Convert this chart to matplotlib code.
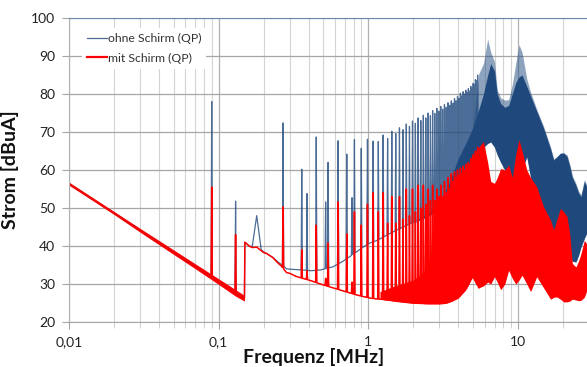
import numpy as np
import matplotlib
matplotlib.use("Agg")
import matplotlib.pyplot as plt
from matplotlib.lines import Line2D
from matplotlib.ticker import FixedLocator, NullFormatter, LogLocator

plt.rcParams['font.family'] = ['Lato', 'DejaVu Sans']

# noise floor below 150 kHz (both measurements on top of each other)
low_f = [0.01, 0.015, 0.02, 0.03, 0.05, 0.07, 0.1, 0.13, 0.149]
low_lo = [56.0, 51.5, 48.3, 43.6, 37.8, 34.0, 29.9, 26.8, 25.5]
low_hi = [56.8, 52.3, 49.1, 44.6, 39.0, 35.3, 31.4, 28.5, 27.0]

# single lines below 150 kHz
low_spike_f = [0.09, 0.13]
low_spike_blue = [78.0, 51.8]
low_spike_red = [55.5, 43.0]

# floor between the harmonics, 0.15 ... 5.5 MHz
base_f = [0.15, 0.16, 0.17, 0.19, 0.20, 0.21, 0.23, 0.25, 0.262, 0.285, 0.30, 0.33,
          0.42, 0.48, 0.58, 0.68, 0.76, 0.86, 0.95, 1.03, 1.12, 1.22, 1.4, 1.58,
          1.76, 1.94, 2.2, 2.48, 2.75, 3.1, 3.38, 3.65, 4.0, 4.5, 5.0, 5.5]
base_blue = [41.0, 40.0, 39.8, 39.2, 38.5, 38.0, 37.0, 35.8, 35.2, 34.0, 33.9, 33.8,
             33.5, 33.7, 34.5, 36.0, 37.3, 38.8, 40.0, 40.8, 41.3, 42.0, 43.3, 44.3,
             45.2, 46.0, 47.0, 47.8, 48.7, 50.0, 51.5, 53.0, 55.0, 58.0, 61.0, 64.0]
base_red = [41.0, 40.0, 39.5, 39.0, 38.3, 38.0, 37.0, 35.5, 34.8, 33.0, 32.8, 32.0,
            30.8, 30.0, 29.0, 28.2, 27.6, 27.0, 26.6, 26.3, 26.1, 26.0, 25.7, 25.4,
            25.2, 25.0, 24.9, 24.8, 24.8, 24.8, 25.0, 25.5, 26.3, 28.5, 31.9, 29.0]

# harmonic peaks
harm_f = [0.18, 0.27, 0.36, 0.39, 0.45, 0.52, 0.54, 0.63, 0.72, 0.78, 0.81, 0.90, 0.99,
          1.08, 1.17, 1.26, 1.35, 1.44, 1.53, 1.62, 1.71, 1.80, 1.89, 1.98, 2.07, 2.16,
          2.25, 2.34, 2.43, 2.52, 2.61, 2.70, 2.79, 2.88, 2.97, 3.06, 3.15, 3.24, 3.33,
          3.42, 3.51, 3.60, 3.69, 3.78, 3.87, 3.96, 4.05, 4.14, 4.23, 4.32, 4.41, 4.50,
          4.59, 4.68, 4.77, 4.86, 4.95, 5.04, 5.13, 5.22, 5.31, 5.40]
harm_blue = [48.0, 72.4, 60.2, 53.8, 68.7, 51.6, 62.0, 67.7, 64.2, 52.7, 68.0, 65.7, 68.1,
             67.6, 67.5, 69.2, 68.3, 70.2, 69.6, 71.1, 70.6, 72.1, 71.5, 72.9, 72.3, 73.7,
             73.0, 74.4, 73.7, 75.0, 74.3, 75.6, 74.9, 76.2, 75.5, 76.7, 76.0, 77.2, 76.5,
             77.7, 77.0, 78.2, 77.6, 78.8, 78.2, 79.4, 78.8, 80.2, 79.5, 80.6, 80.0, 81.0,
             80.4, 81.4, 80.8, 82.0, 81.5, 82.8, 82.5, 83.8, 83.5, 85.0]
harm_red = [39.7, 50.3, 39.0, 33.5, 45.5, 31.5, 40.8, 51.6, 43.2, 30.5, 49.0, 45.5, 51.0,
            54.0, 49.0, 54.0, 46.0, 53.0, 46.0, 53.0, 47.0, 55.0, 48.0, 55.0, 49.0, 56.0,
            50.0, 56.0, 51.0, 55.0, 52.0, 56.0, 52.0, 55.0, 53.0, 56.0, 53.0, 57.0, 54.0,
            58.0, 55.0, 59.0, 57.0, 59.5, 58.0, 60.0, 58.5, 60.5, 59.0, 61.0, 60.0, 61.5,
            60.5, 62.0, 61.5, 63.0, 62.5, 64.0, 63.5, 65.0, 64.5, 66.0]

# dense part of the spectrum (envelopes)
band_f = [1.2, 1.5, 2.0, 2.5, 3.0, 3.6, 4.0, 4.5, 5.0, 5.5, 5.9, 6.3, 6.6, 7.0, 7.3,
          7.7, 8.2, 8.7, 9.2, 9.7, 10.2, 10.7, 11.5, 12.2, 13.4, 14.9, 16.6, 17.4,
          18.3, 19.3, 20.3, 21.4, 22.3, 23.2, 24.5, 25.5, 26.5, 27.9, 29.0, 30.0]
blue_lo = [42.0, 44.0, 46.0, 47.8, 49.5, 53.0, 55.0, 58.0, 61.0, 64.0, 66.0, 67.0, 67.4,
           66.0, 64.0, 62.0, 60.0, 59.0, 58.0, 58.0, 58.0, 60.0, 63.5, 58.0, 54.0, 49.0,
           46.0, 44.0, 44.0, 44.0, 42.0, 40.0, 37.5, 36.0, 35.8, 37.5, 39.8, 42.0, 43.5, 44.0]
blue_core = [42.0, 44.0, 46.0, 48.5, 51.0, 58.0, 63.0, 67.0, 71.0, 76.0, 80.0, 85.0, 88.0,
             86.0, 80.0, 77.5, 76.5, 77.0, 80.0, 83.0, 84.5, 85.0, 82.0, 79.5, 75.5, 71.0,
             65.5, 62.6, 63.5, 64.4, 64.5, 63.5, 61.0, 58.0, 56.0, 54.0, 53.0, 57.0, 55.5, 53.5]
blue_hi = [42.0, 44.0, 46.0, 48.5, 51.0, 58.0, 63.0, 67.0, 71.0, 85.4, 88.0, 94.5, 91.0,
           88.5, 81.0, 79.0, 78.4, 78.5, 82.5, 88.0, 93.0, 91.0, 84.0, 80.5, 76.0, 71.5,
           66.0, 63.0, 63.5, 64.4, 64.5, 64.0, 61.5, 58.5, 56.5, 54.5, 53.5, 57.5, 56.0, 54.0]
red_lo = [26.0, 25.5, 25.0, 24.8, 24.8, 25.5, 26.3, 28.5, 31.9, 29.0, 29.5, 30.5, 30.0,
          31.9, 30.5, 28.5, 30.0, 33.6, 31.5, 30.0, 31.0, 32.3, 30.0, 28.0, 31.9, 29.0,
          26.0, 26.5, 26.6, 26.0, 25.3, 25.3, 25.5, 26.0, 25.8, 25.6, 25.7, 26.5, 28.3, 28.0]
red_hi = [28.0, 29.5, 31.0, 34.0, 40.0, 52.0, 56.0, 58.0, 60.0, 66.0, 67.5, 62.0, 57.0,
          56.5, 58.0, 60.4, 60.0, 61.3, 58.0, 64.0, 68.0, 65.0, 60.0, 58.0, 55.6, 50.3,
          46.8, 44.2, 47.0, 49.9, 49.0, 47.7, 43.0, 35.4, 34.5, 36.0, 38.0, 41.5, 40.5, 40.0]

BLUE = '#1F497D'
RED = '#FF0000'


def spiky(bx, by, sx, sy):
    # floor line with narrow peaks put on it
    lbx = np.log10(bx)
    pts, wins = [], []
    for f, p in zip(sx, sy):
        w = 0.03 if 0.17 < f < 0.19 else 0.004
        lf = np.log10(f)
        wins.append((lf - w, lf + w))
        pts += [(lf - w, np.interp(lf - w, lbx, by)), (lf, p),
                (lf + w, np.interp(lf + w, lbx, by))]
    for lx, y in zip(lbx, by):
        if not any(a <= lx <= b for a, b in wins):
            pts.append((lx, y))
    pts.sort()
    return 10 ** np.array([q[0] for q in pts]), np.array([q[1] for q in pts])


low_mid = (np.array(low_lo) + np.array(low_hi)) / 2

fig = plt.figure(figsize=(5.87, 3.67), dpi=100)
ax = fig.add_axes([0.1175, 0.1226, 0.886, 0.8283])

# ohne Schirm
x1, y1 = spiky(low_f, low_mid, low_spike_f, low_spike_blue)
x2, y2 = spiky(base_f, base_blue, harm_f, harm_blue)
ax.plot(np.r_[x1, x2], np.r_[y1, y2], color=BLUE, lw=0.9, alpha=0.8)
ax.fill_between(band_f, blue_lo, blue_hi, color=BLUE, alpha=0.5, lw=0)
ax.fill_between(band_f, blue_lo, blue_core, color=BLUE, lw=0)

# mit Schirm
ax.fill_between(low_f, low_lo, low_hi, color=RED, lw=0)
x1, y1 = spiky(low_f, low_mid, low_spike_f, low_spike_red)
x2, y2 = spiky(base_f, base_red, harm_f, harm_red)
ax.plot(np.r_[x1, x2], np.r_[y1, y2], color=RED, lw=1.1)
ax.fill_between(band_f, red_lo, red_hi, color=RED, lw=0)

ax.set_xscale('log')
ax.set_xlim(0.01, 30)
ax.set_ylim(20, 100)
ax.set_yticks(range(20, 101, 10))
ax.xaxis.set_major_locator(FixedLocator([0.01, 0.1, 1, 10]))
ax.set_xticklabels(['0,01', '0,1', '1', '10'])
ax.xaxis.set_minor_locator(LogLocator(base=10, subs=range(2, 10)))
ax.xaxis.set_minor_formatter(NullFormatter())

ax.set_axisbelow(True)
ax.grid(axis='y', which='major', color='#a6a6a6', lw=0.9)
ax.grid(axis='x', which='major', color='#b0b0b0', lw=0.9)
ax.grid(axis='x', which='minor', color='#d4d4d4', lw=0.8)

ax.tick_params(axis='both', which='major', length=5, color='#a6a6a6',
               labelsize=10, labelcolor='#222222', pad=5)
ax.tick_params(axis='x', which='minor', length=4, color='#c8c8c8')
ax.spines['right'].set_visible(False)
ax.spines['top'].set_color('#6f88b0')
ax.spines['left'].set_color('#b0b0b0')
ax.spines['bottom'].set_color('#a6a6a6')

ax.set_ylabel('Strom [dBuA]', fontsize=14, fontweight='bold', color='#111111')
ax.yaxis.set_label_coords(-0.097, 0.5)
fig.text(314 / 587, 1.5 / 367, 'Frequenz [MHz]', fontsize=14, fontweight='bold',
         color='#111111', ha='center', va='bottom')

handles = [Line2D([], [], color=BLUE, lw=0.9, alpha=0.8),
           Line2D([], [], color=RED, lw=1.6)]
leg = ax.legend(handles, ['ohne Schirm (QP)', 'mit Schirm (QP)'],
                loc='upper left', bbox_to_anchor=(76 / 587, 1 - 22 / 367),
                bbox_transform=fig.transFigure, fontsize=8.8, frameon=True,
                fancybox=False, edgecolor='none', facecolor='white', framealpha=1,
                handlelength=1.6, handletextpad=0.1, borderpad=0.4, labelspacing=0.7)
for t in leg.get_texts():
    t.set_color('#333333')

fig.savefig('out.png', dpi=100)
